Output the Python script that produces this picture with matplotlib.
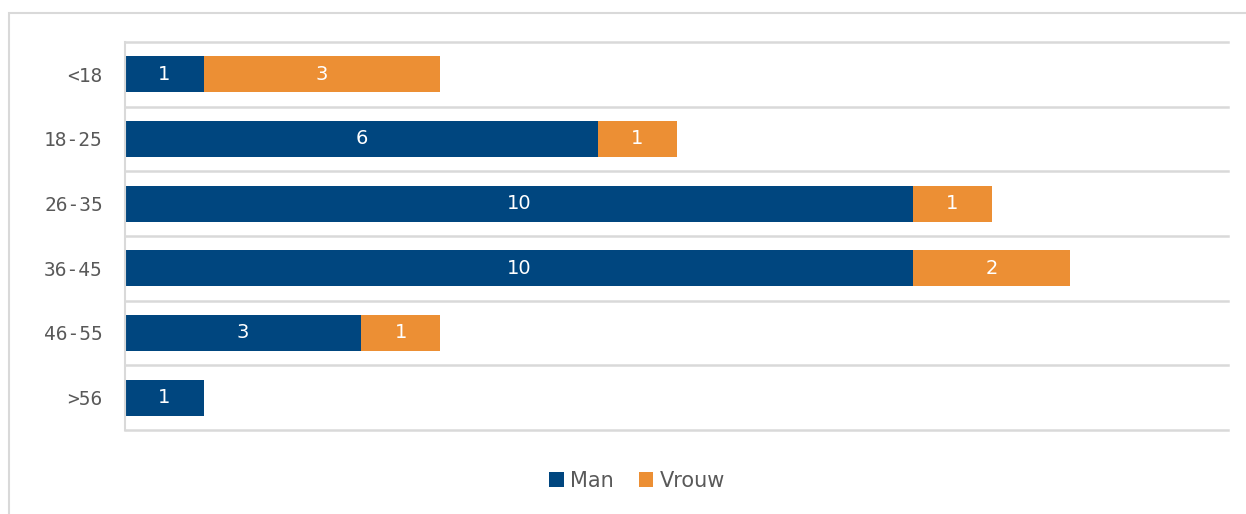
import matplotlib.pyplot as plt
from matplotlib.patches import Rectangle

# Leeftijdscategorieën en aantallen
categories = ["<18", "18-25", "26-35", "36-45", "46-55", ">56"]
man = [1, 6, 10, 10, 3, 1]
vrouw = [3, 1, 1, 2, 1, 0]

blue = "#00467F"
orange = "#EC8F34"
grid = "#D9D9D9"
text_col = "#595959"

fig = plt.figure(figsize=(12.46, 5.14), dpi=100)
ax = fig.add_axes([125 / 1246, 1 - 430 / 514, (1228 - 125) / 1246, (430 - 42) / 514])

# kader om de grafiek
fig.patches.append(Rectangle((9 / 1246, -0.01), 1.0, 1 - 13 / 514 + 0.01,
                             transform=fig.transFigure, fill=False,
                             edgecolor=grid, linewidth=1.5))

y = list(range(len(categories)))
b1 = ax.barh(y, man, height=0.56, color=blue, label="Man")
b2 = ax.barh(y, vrouw, left=man, height=0.56, color=orange, label="Vrouw")

for bars, vals in ((b1, man), (b2, vrouw)):
    for bar, v in zip(bars, vals):
        if v > 0:
            ax.text(bar.get_x() + bar.get_width() / 2, bar.get_y() + bar.get_height() / 2,
                    str(v), ha="center", va="center", color="white", fontsize=14)

ax.set_xlim(0, 14)
ax.set_ylim(len(categories) - 0.5, -0.5)
ax.set_yticks(y)
ax.set_yticklabels(categories, fontsize=14, color=text_col, fontfamily="DejaVu Sans Mono")
ax.tick_params(axis="y", length=0, pad=16)
ax.set_xticks([])

# horizontale lijnen tussen de categorieën
for b in [i - 0.5 for i in range(len(categories) + 1)]:
    ax.axhline(b, color=grid, linewidth=1.8, zorder=0, clip_on=False)

for s in ["top", "right", "bottom"]:
    ax.spines[s].set_visible(False)
ax.spines["left"].set_color(grid)
ax.spines["left"].set_linewidth(1.5)

fig.legend(handles=[b1, b2], loc="center", bbox_to_anchor=(637 / 1246, 1 - 481 / 514),
           ncol=2, frameon=False, fontsize=15, labelcolor=text_col,
           handlelength=0.7, handleheight=0.7, handletextpad=0.3, columnspacing=1.2)

fig.savefig("out.png", dpi=100)
